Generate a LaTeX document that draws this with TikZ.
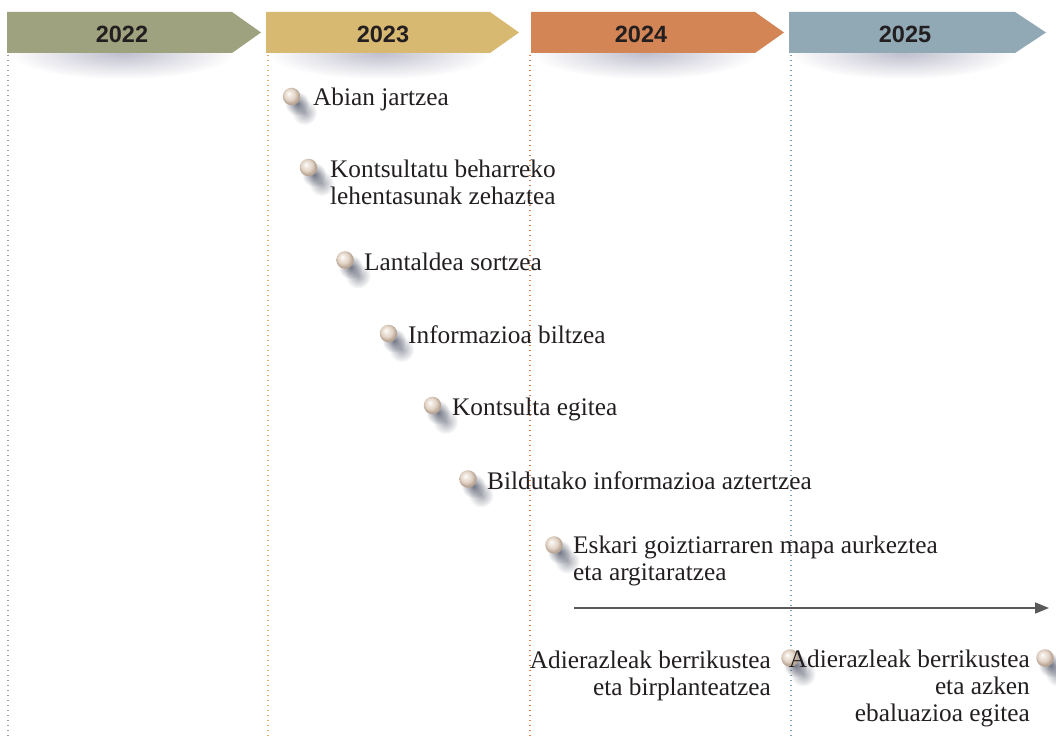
\documentclass[tikz,border=0pt]{standalone}
\usepackage{fontspec}
\setmainfont{Liberation Serif}
\newfontfamily\yearfont{Liberation Sans}
\usetikzlibrary{arrows.meta,fadings,shadows}
\definecolor{b22}{HTML}{9EA27E}
\definecolor{b23}{HTML}{D8B972}
\definecolor{b24}{HTML}{D38555}
\definecolor{b25}{HTML}{91A8B5}
\definecolor{l22}{HTML}{A0A0A0}
\definecolor{l23}{HTML}{D9AE68}
\definecolor{l24}{HTML}{D9824E}
\definecolor{l25}{HTML}{7C9DB4}
\definecolor{txt}{HTML}{231F20}
\definecolor{arrowgrey}{HTML}{5A5A5C}
\definecolor{shband}{HTML}{B4B4C6}
\definecolor{shball}{HTML}{3A4054}
\definecolor{pearlA}{HTML}{F3ECE5}
\definecolor{pearlB}{HTML}{E2D4C6}
\definecolor{pearlC}{HTML}{B8A494}
\tikzfading[name=softfade, inner color=transparent!0, outer color=transparent!100]
\pgfdeclareradialshading{pearl}{\pgfqpoint{-8bp}{9bp}}{color(0bp)=(white); color(6bp)=(pearlA); color(16bp)=(pearlB); color(25bp)=(pearlC); color(50bp)=(pearlC)}
\begin{document}
\begin{tikzpicture}[x=1pt,y=-1pt,
  bannerbox/.style={fill=#1},
  bannershadow/.style={fill=shband, path fading=softfade, opacity=.85},
  yeartext/.style={font=\yearfont\bfseries\fontsize{23.5}{26}\selectfont, text=txt, inner sep=0pt},
  dotline/.style={draw=#1, line width=1.4pt, dash pattern=on 1.4pt off 3.6pt},
  label/.style={font=\fontsize{25.3}{27}\selectfont, text=txt, inner sep=0pt},
  pearlball/.style={circle, minimum size=17.5pt, inner sep=0pt, shading=pearl,
    general shadow={fill=shball, opacity=.45, path fading=softfade, shadow xshift=9pt, shadow yshift=-11pt, shadow scale=1.45},
    general shadow={fill=shball, opacity=.7, path fading=softfade, shadow xshift=4pt, shadow yshift=-5pt, shadow scale=1.4}},
  timearrow/.style={draw=arrowgrey, line width=1.6pt, -{Triangle[length=14pt,width=11pt]}}
]
\useasboundingbox (0,0) rectangle (1056,738);
\fill[white] (0,0) rectangle (1056,738);

% banner shadows
\fill[bannershadow] (122,53) ellipse (112pt and 26pt);
\fill[bannershadow] (380,53) ellipse (112pt and 26pt);
\fill[bannershadow] (645,53) ellipse (112pt and 26pt);
\fill[bannershadow] (903,53) ellipse (112pt and 26pt);

% dotted year lines
\coordinate (d1t) at (8,55);   \coordinate (d1b) at (8,738);
\coordinate (d2t) at (268,55); \coordinate (d2b) at (268,738);
\coordinate (d3t) at (530,55); \coordinate (d3b) at (530,738);
\coordinate (d4t) at (791,55); \coordinate (d4b) at (791,738);
\draw[dotline=l22] (d1t) -- (d1b);
\draw[dotline=l23] (d2t) -- (d2b);
\draw[dotline=l24] (d3t) -- (d3b);
\draw[dotline=l25] (d4t) -- (d4b);

% banners
\fill[bannerbox=b22] (7,12) -- (232,12) -- (261,32.5) -- (232,53) -- (7,53) -- cycle;
\fill[bannerbox=b23] (266,12) -- (490,12) -- (519,32.5) -- (490,53) -- (266,53) -- cycle;
\fill[bannerbox=b24] (531,12) -- (755,12) -- (784,32.5) -- (755,53) -- (531,53) -- cycle;
\fill[bannerbox=b25] (789,12) -- (1015,12) -- (1046,32.5) -- (1015,53) -- (789,53) -- cycle;
\node[yeartext] (y22) at (122,34) {2022};
\node[yeartext] (y23) at (383,34) {2023};
\node[yeartext] (y24) at (641,34) {2024};
\node[yeartext] (y25) at (905,34) {2025};

% bullets
\node[pearlball] (p1) at (291.5,96.5) {};
\node[pearlball] (p2) at (308.5,167.5) {};
\node[pearlball] (p3) at (345,260) {};
\node[pearlball] (p4) at (388.5,333.5) {};
\node[pearlball] (p5) at (432.5,405.5) {};
\node[pearlball] (p6) at (468,479) {};
\node[pearlball] (p7) at (554,545) {};
\node[pearlball] (p8) at (790,658) {};
\node[pearlball] (p9) at (1045,658) {};

% labels (base anchor = baseline of the last line)
\node[label, anchor=base west] (t1) at (313,106) {Abian jartzea};
\node[label, anchor=base west, align=left] (t2) at (330,204) {Kontsultatu beharreko\\lehentasunak zehaztea};
\node[label, anchor=base west] (t3) at (364,270) {Lantaldea sortzea};
\node[label, anchor=base west] (t4) at (408,343) {Informazioa biltzea};
\node[label, anchor=base west] (t5) at (452,415) {Kontsulta egitea};
\node[label, anchor=base west] (t6) at (487,489) {Bildutako informazioa aztertzea};
\node[label, anchor=base west, align=left] (t7) at (573,580) {Eskari goiztiarraren mapa aurkeztea\\eta argitaratzea};
\node[label, anchor=base east, align=right] (t8) at (771,695) {Adierazleak berrikustea\\eta birplanteatzea};
\node[label, anchor=base east, align=right] (t9) at (1030,721) {Adierazleak berrikustea\\eta azken\\ebaluazioa egitea};

% time arrow
\coordinate (as) at (574,608);
\coordinate (ae) at (1049,608);
\draw[timearrow] (as) -- (ae);
\end{tikzpicture}
\end{document}
